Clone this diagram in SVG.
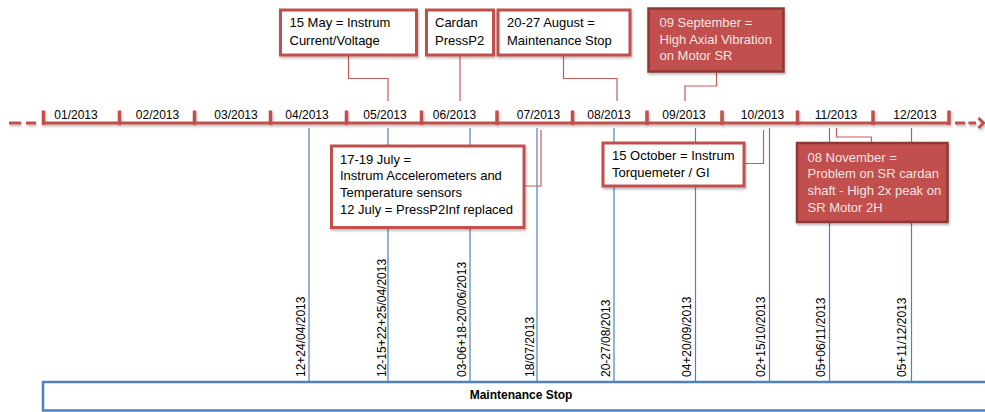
<svg xmlns="http://www.w3.org/2000/svg" width="985" height="412" viewBox="0 0 985 412">
  <style>
    text { font-family: "Liberation Sans", Arial, sans-serif; fill: #000; }
    .month { font-size: 12px; text-anchor: middle; }
    .note { font-size: 13px; }
    .note-alert { font-size: 13px; fill: #F6E4E3; }
    .date { font-size: 12px; }
    .bar-label { font-size: 12px; font-weight: bold; text-anchor: middle; }
    .box { fill: #FFFFFF; stroke: #C0504D; stroke-width: 3; }
    .box-alert { fill: #C0504D; stroke: #8C3836; stroke-width: 2.5; }
    .marker { stroke: #4F81BD; stroke-width: 1.2; fill: none; }
    .link { stroke: #C85A57; stroke-width: 1.2; fill: none; }
    .axis { stroke: #C0504D; stroke-width: 3; fill: none; }
    .tick { stroke: #C0504D; stroke-width: 3.5; }
  </style>
  <defs>
    <filter id="soft-shadow" x="-5%" y="-20%" width="110%" height="160%">
      <feDropShadow dx="1" dy="2" stdDeviation="1" flood-color="#000" flood-opacity="0.25"/>
    </filter>
  </defs>
  <rect width="985" height="412" fill="#FFFFFF"/>

  <!-- date markers: vertical blue lines with rotated date labels -->
  <g id="date-markers">
    <line class="marker" x1="309" y1="128" x2="309" y2="381"/>
    <line class="marker" x1="388" y1="128" x2="388" y2="381"/>
    <line class="marker" x1="470" y1="128" x2="470" y2="381"/>
    <line class="marker" x1="537" y1="128" x2="537" y2="381"/>
    <line class="marker" x1="614" y1="128" x2="614" y2="381"/>
    <line class="marker" x1="695.5" y1="128" x2="695.5" y2="381"/>
    <line class="marker" x1="769.5" y1="128" x2="769.5" y2="381"/>
    <line class="marker" x1="829.5" y1="128" x2="829.5" y2="381"/>
    <line class="marker" x1="911.5" y1="128" x2="911.5" y2="381"/>
    <text class="date" transform="translate(305,377) rotate(-90)">12+24/04/2013</text>
    <text class="date" transform="translate(386,377) rotate(-90)">12-15+22+25/04/2013</text>
    <text class="date" transform="translate(466,377) rotate(-90)">03-06+18-20/06/2013</text>
    <text class="date" transform="translate(534,377) rotate(-90)">18/07/2013</text>
    <text class="date" transform="translate(610,377) rotate(-90)">20-27/08/2013</text>
    <text class="date" transform="translate(691,377) rotate(-90)">04+20/09/2013</text>
    <text class="date" transform="translate(765,377) rotate(-90)">02+15/10/2013</text>
    <text class="date" transform="translate(825,377) rotate(-90)">05+06/11/2013</text>
    <text class="date" transform="translate(906,377) rotate(-90)">05+11/12/2013</text>
  </g>

  <!-- elbow connectors from notes to the timeline -->
  <g id="connectors">
    <polyline class="link" points="348.5,55 348.5,78.5 388,78.5 388,101"/>
    <polyline class="link" points="460,55 460,101"/>
    <polyline class="link" points="563.5,55 563.5,78.5 617,78.5 617,101"/>
    <polyline class="link" points="716.5,72 716.5,86 685,86 685,101"/>
    <polyline class="link" points="524,186 541,186 541,130"/>
    <polyline class="link" points="744,163.5 763.5,163.5 763.5,130"/>
    <polyline class="link" points="871.5,143 871.5,137 836.5,137 836.5,128"/>
  </g>

  <!-- monthly timeline axis -->
  <g id="timeline" filter="url(#soft-shadow)">
    <line class="axis" x1="9" y1="123" x2="21" y2="123"/>
    <line class="axis" x1="26" y1="123" x2="36" y2="123"/>
    <line class="axis" x1="43.5" y1="123" x2="949" y2="123"/>
    <line class="axis" x1="955" y1="123" x2="965" y2="123"/>
    <line class="axis" x1="968.5" y1="123" x2="976" y2="123"/>
    <polyline class="axis" points="978.5,118 983.5,123 978.5,128"/>
    <line class="tick" x1="43.5" y1="110.5" x2="43.5" y2="125"/>
    <line class="tick" x1="119.5" y1="110.5" x2="119.5" y2="125"/>
    <line class="tick" x1="194.5" y1="110.5" x2="194.5" y2="125"/>
    <line class="tick" x1="270.5" y1="110.5" x2="270.5" y2="125"/>
    <line class="tick" x1="346.5" y1="110.5" x2="346.5" y2="125"/>
    <line class="tick" x1="421.5" y1="110.5" x2="421.5" y2="125"/>
    <line class="tick" x1="497" y1="110.5" x2="497" y2="125"/>
    <line class="tick" x1="572.5" y1="110.5" x2="572.5" y2="125"/>
    <line class="tick" x1="647" y1="110.5" x2="647" y2="125"/>
    <line class="tick" x1="722" y1="110.5" x2="722" y2="125"/>
    <line class="tick" x1="797.5" y1="110.5" x2="797.5" y2="125"/>
    <line class="tick" x1="873" y1="110.5" x2="873" y2="125"/>
    <line class="tick" x1="949" y1="110.5" x2="949" y2="125"/>
  </g>
  <g id="month-labels">
    <text class="month" x="76" y="118.5">01/2013</text>
    <text class="month" x="157.5" y="118.5">02/2013</text>
    <text class="month" x="236" y="118.5">03/2013</text>
    <text class="month" x="307" y="118.5">04/2013</text>
    <text class="month" x="385" y="118.5">05/2013</text>
    <text class="month" x="454.5" y="118.5">06/2013</text>
    <text class="month" x="538.5" y="118.5">07/2013</text>
    <text class="month" x="609" y="118.5">08/2013</text>
    <text class="month" x="684" y="118.5">09/2013</text>
    <text class="month" x="762.5" y="118.5">10/2013</text>
    <text class="month" x="836" y="118.5">11/2013</text>
    <text class="month" x="915" y="118.5">12/2013</text>
  </g>

  <!-- event notes -->
  <g id="note-may">
    <rect class="box" x="280.5" y="10" width="136" height="45" filter="url(#soft-shadow)"/>
    <text class="note" x="289.5" y="27">15 May = Instrum</text>
    <text class="note" x="289.5" y="44.5">Current/Voltage</text>
  </g>
  <g id="note-cardan">
    <rect class="box" x="426.5" y="10" width="67" height="45" filter="url(#soft-shadow)"/>
    <text class="note" x="435" y="27">Cardan</text>
    <text class="note" x="435" y="44.5">PressP2</text>
  </g>
  <g id="note-august">
    <rect class="box" x="498" y="10" width="132" height="45" filter="url(#soft-shadow)"/>
    <text class="note" x="507" y="27">20-27 August =</text>
    <text class="note" x="507" y="44.5">Maintenance Stop</text>
  </g>
  <g id="note-september">
    <rect class="box-alert" x="648.5" y="8.5" width="135" height="63" filter="url(#soft-shadow)"/>
    <text class="note-alert" x="659.5" y="26.5">09 September =</text>
    <text class="note-alert" x="659.5" y="43.5">High Axial Vibration</text>
    <text class="note-alert" x="659.5" y="60">on Motor SR</text>
  </g>
  <g id="note-july">
    <rect class="box" x="331.5" y="146" width="192.5" height="81.5" filter="url(#soft-shadow)"/>
    <text class="note" x="340" y="163.5">17-19 July =</text>
    <text class="note" x="340" y="180">Instrum Accelerometers and</text>
    <text class="note" x="340" y="196.5">Temperature sensors</text>
    <text class="note" x="340" y="213.5">12 July = PressP2Inf replaced</text>
  </g>
  <g id="note-october">
    <rect class="box" x="603" y="143" width="141" height="43" filter="url(#soft-shadow)"/>
    <text class="note" x="612" y="159.5">15 October = Instrum</text>
    <text class="note" x="612" y="177">Torquemeter / GI</text>
  </g>
  <g id="note-november">
    <rect class="box-alert" x="797" y="143" width="150.5" height="79" filter="url(#soft-shadow)"/>
    <text class="note-alert" x="807.5" y="161.5">08 November =</text>
    <text class="note-alert" x="807.5" y="178">Problem on SR cardan</text>
    <text class="note-alert" x="807.5" y="195">shaft - High 2x  peak on</text>
    <text class="note-alert" x="807.5" y="212">SR Motor 2H</text>
  </g>

  <!-- maintenance stop band -->
  <g id="maintenance-bar">
    <rect x="43" y="382" width="1000" height="28.5" fill="#FFFFFF" stroke="#4F81BD" stroke-width="2.5"/>
    <text class="bar-label" x="521" y="398.5">Maintenance Stop</text>
  </g>
</svg>
